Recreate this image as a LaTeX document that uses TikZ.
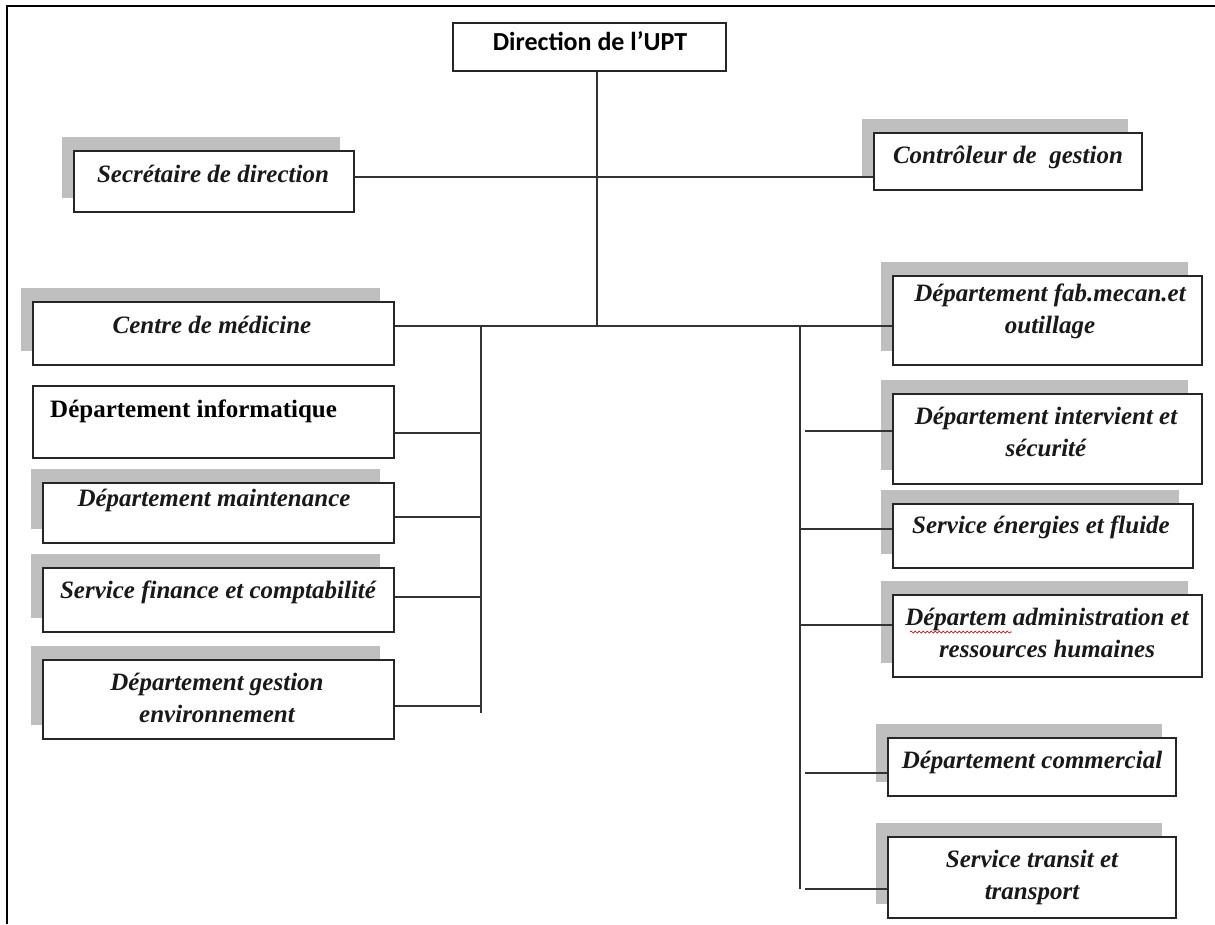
\documentclass[tikz,border=0pt]{standalone}
\usepackage{fontspec}
\setmainfont{Liberation Serif}
\newfontfamily\headfont{Carlito}
\usetikzlibrary{fit,decorations.pathmorphing}

% box with a grey drop block behind its upper left corner
\newcommand\shadowedbox[5]{%
  \fill[shadowfill] (#2-12,#3-14) rectangle (#4-14,#5-14);
  \node[unitbox, fit={(#2,#3) (#4,#5)}] (#1) {};}

\begin{document}
\begin{tikzpicture}[x=1pt,y=-1pt,
  unitbox/.style={draw=black!85, line width=1.5pt, fill=white, inner sep=0pt, rectangle},
  shadowfill/.style={fill=black!25},
  lbl/.style={font=\fontsize{25}{32}\selectfont\bfseries\itshape, align=center,
              anchor=base, inner sep=0pt, text=black!90},
  link/.style={draw=black!80, line width=1.2pt},
]
\useasboundingbox (0,0) rectangle (1215,924);

% outer frame (open on the right and at the bottom)
\draw[line width=2.5pt] (7,924) -- (7,6) -- (1215,6);

% ---- boxes ----
\node[unitbox, fit={(453,23) (726,71)}] (dir) {};
\shadowedbox{sec}{74}{151}{354}{212}
\shadowedbox{ctrl}{874}{133}{1142}{190}

\shadowedbox{med}{33}{302}{394}{365}
\node[unitbox, fit={(33,386) (394,458)}] (info) {};
\shadowedbox{maint}{43}{483}{394}{543}
\shadowedbox{fin}{43}{568}{394}{632}
\shadowedbox{env}{43}{660}{394}{739}

\shadowedbox{fab}{893}{276}{1202}{365}
\shadowedbox{secu}{893}{394}{1202}{484}
\shadowedbox{ener}{893}{504}{1193}{568}
\shadowedbox{adm}{893}{595}{1202}{677}
\shadowedbox{com}{888}{738}{1176}{796}
\shadowedbox{trans}{888}{837}{1176}{918}

% ---- labels (two-line labels are placed by the baseline of their last line) ----
\node[anchor=base, inner sep=0pt, font=\headfont\bfseries\fontsize{26}{30}\selectfont] (dirtxt)
  at (590,50) {Direction de l’UPT};
\node[lbl] (sectxt)   at (213,182) {Secrétaire de direction};
\node[lbl] (ctrltxt)  at (1008,163) {Contrôleur de\ \ gestion};
\node[lbl] (medtxt)   at (212,333) {Centre de médicine};
\node[anchor=base west, inner sep=0pt, font=\fontsize{25}{32}\selectfont\bfseries] (infotxt)
  at (50,417) {Département informatique};
\node[lbl] (mainttxt) at (214,506) {Département maintenance};
\node[lbl] (fintxt)   at (218,598) {Service finance et comptabilité};
\node[lbl] (envtxt)   at (217,722) {Département gestion\\environnement};

\node[lbl] (fabtxt)   at (1050,333) {Département fab.mecan.et\\outillage};
\node[lbl] (secutxt)  at (1046,456) {Département intervient et\\sécurité};
\node[lbl] (enertxt)  at (1041,533) {Service énergies et fluide};
\node[lbl] (admtxt)   at (1047,657) {Départem administration et\\ressources humaines};
\node[lbl] (comtxt)   at (1032,768) {Département commercial};
\node[lbl] (transtxt) at (1032,899) {Service transit et\\transport};

% spell-check squiggle under the abbreviated word
\draw[red!80!black, line width=0.7pt, decorate,
      decoration={snake, amplitude=1pt, segment length=4pt}] (910,632) -- (1012,632);

% ---- connectors ----
\coordinate (top)   at (597,326);
\coordinate (lbusT) at (481,326);
\coordinate (lbusB) at (481,713);
\coordinate (rbusT) at (800,326);
\coordinate (rbusB) at (800,889);

\draw[link] (dir.south -| top) -- (top);
\draw[link] (sec.east |- 0,177) -- (ctrl.west |- 0,177);
\draw[link] (med.east |- top) -- (fab.west |- top);
\draw[link] (lbusT) -- (lbusB);
\draw[link] (rbusT) -- (rbusB);

% left branches
\coordinate (lInfo)  at (481,433);
\coordinate (lMaint) at (481,517);
\coordinate (lFin)   at (481,597);
\coordinate (lEnv)   at (481,706);
\draw[link] (info.east |- lInfo)   -- (lInfo);
\draw[link] (maint.east |- lMaint) -- (lMaint);
\draw[link] (fin.east |- lFin)     -- (lFin);
\draw[link] (env.east |- lEnv)     -- (lEnv);

% right branches
\coordinate (rSecu)  at (805,431);
\coordinate (rEner)  at (800,529);
\coordinate (rAdm)   at (800,625);
\coordinate (rCom)   at (805,773);
\coordinate (rTrans) at (805,889);
\draw[link] (rSecu)  -- (secu.west |- rSecu);
\draw[link] (rEner)  -- (ener.west |- rEner);
\draw[link] (rAdm)   -- (adm.west |- rAdm);
\draw[link] (rCom)   -- (com.west |- rCom);
\draw[link] (rTrans) -- (trans.west |- rTrans);
\end{tikzpicture}
\end{document}
